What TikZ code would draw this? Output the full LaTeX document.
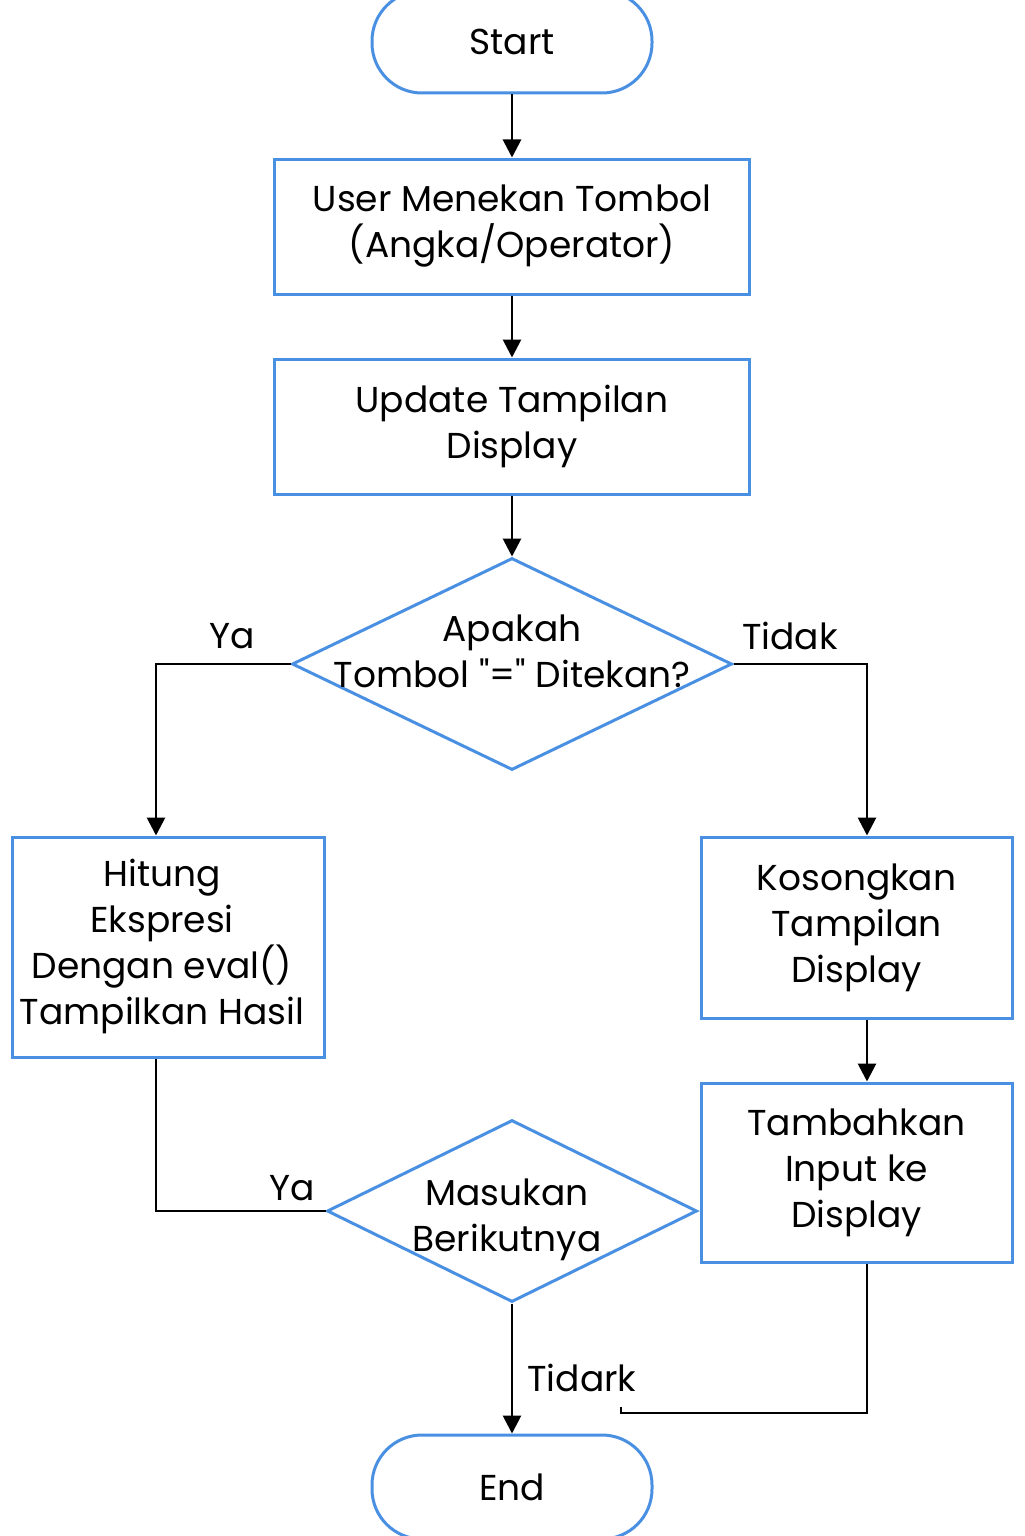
\documentclass[tikz,border=0pt]{standalone}
\usepackage{fontspec}
\setmainfont{Poppins}
\newfontfamily\qfont{Poppins}
\usetikzlibrary{shapes.geometric,arrows.meta,calc}
\definecolor{bl}{HTML}{4A90E2}
\begin{document}
\begin{tikzpicture}[x=0.5pt,y=-0.5pt,
  font=\fontsize{18}{23}\selectfont,
  box/.style={draw=bl,line width=1.5pt,rectangle,align=center,inner sep=0pt},
  term/.style={draw=bl,line width=1.5pt,rectangle,rounded corners=25pt,minimum width=140pt,minimum height=51pt,inner sep=0pt},
  dia/.style={draw=bl,line width=1.5pt,diamond,inner sep=0pt},
  txt/.style={align=center,inner sep=0pt},
  conn/.style={line width=1.4pt,black},
  arr/.style={conn,-{Triangle[length=9pt,width=9pt]}}]
\useasboundingbox (0,0) rectangle (1024,1536);
\node[term] (start) at (512,42) {Start};
\node[box,minimum width=237.5pt,minimum height=67.5pt] (b1) at (512,226.5) {User Menekan Tombol\\(Angka/Operator)};
\node[box,minimum width=237.5pt,minimum height=67.5pt] (b2) at (512,426.5) {Update Tampilan\\Display};
\node[dia,minimum width=220pt,minimum height=106pt] (d1) at (512,664) {};
\node[txt] (d1t) at (512,651) {Apakah\\Tombol {\qfont"}={\qfont"} Ditekan?};
\node[box,minimum width=156pt,minimum height=110pt] (b3) at (168,947) {};
\node[txt] (b3t) at (162,946) {Hitung\\Ekspresi\\Dengan eval()\\Tampilkan Hasil};
\node[box,minimum width=155.5pt,minimum height=90.5pt] (b4) at (856.5,927.5) {Kosongkan\\Tampilan\\Display};
\node[box,minimum width=155.5pt,minimum height=89.5pt] (b5) at (856.5,1172.5) {Tambahkan\\Input ke\\Display};
\node[dia,minimum width=185pt,minimum height=91pt] (d2) at (512,1211) {};
\node[txt] (d2t) at (507,1220) {Masukan\\Berikutnya};
\node[term,minimum height=52pt] (end) at (512,1487) {End};
\coordinate (tick) at (621,1413);
% connectors
\draw[arr] (start) -- (b1);
\draw[arr] (b1) -- (b2);
\draw[arr] (b2) -- (d1.north);
\draw[arr] (d1.west) -| ($(b3.north)+(-12,0)$);
\draw[arr] (d1.east) -| ($(b4.north)+(10.5,0)$);
\draw[arr] ($(b4.south)+(10.5,0)$) -- ($(b5.north)+(10.5,0)$);
\draw[conn] ($(b3.south)+(-12,0)$) |- (d2.west);
\draw[conn] ($(b5.south)+(10.5,0)$) |- (tick) -- ++(0,-6);
\draw[arr] (d2.south) -- (end.north);
% labels
\node[txt] (l1) at (232,636) {Ya};
\node[txt] (l2) at (790,636) {Tidak};
\node[txt] (l3) at (292,1188) {Ya};
\node[txt] (l4) at (582,1378) {Tidark};
\end{tikzpicture}
\end{document}
